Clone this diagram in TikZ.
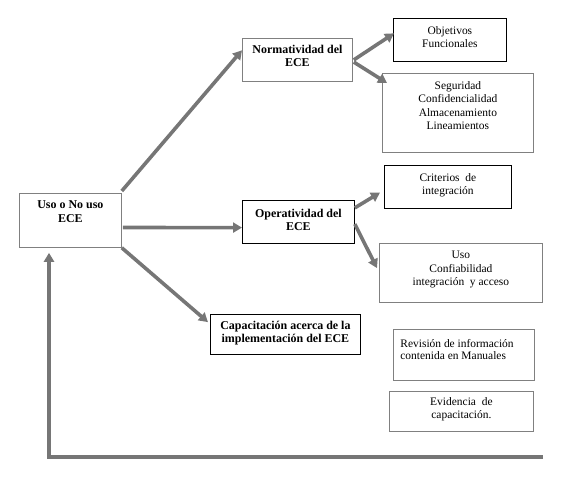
\documentclass[tikz,border=0pt]{standalone}
\usepackage{fontspec}
\setmainfont{Liberation Serif}
\usetikzlibrary{arrows.meta,calc}
\definecolor{arr}{HTML}{767676}
\definecolor{bgray}{HTML}{808080}
\tikzset{
  box/.style={draw, line width=0.8bp, inner sep=0pt, anchor=north west, font=\fontsize{11.5}{13.5}\selectfont},
  boldbox/.style={font=\fontsize{12}{13}\selectfont\bfseries},
  gbox/.style={box, draw=bgray},
  kbox/.style={box, draw=black},
  conn/.style={draw=arr, line width=3.6bp, -{Triangle[length=9bp,width=10bp]}},
}
\begin{document}
\begin{tikzpicture}[x=1bp,y=-1bp]
\useasboundingbox (0,0) rectangle (564,478);
% boxes
\node[gbox,boldbox] (uso) at (19,193) {\parbox[t][54bp][t]{102bp}{\centering\vspace*{7bp}Uso o No uso\\[1bp]ECE}};
\node[gbox,boldbox] (norm) at (242,38) {\parbox[t][43bp][t]{110bp}{\centering\vspace*{7bp}Normatividad del\\ECE}};
\node[kbox] (obj) at (393,18) {\parbox[t][43bp][t]{113bp}{\centering\vspace*{8bp}Objetivos\\Funcionales}};
\node[gbox] (seg) at (382,73) {\parbox[t][79bp][t]{151bp}{\centering\vspace*{8bp}Seguridad\\Confidencialidad\\Almacenamiento\\Lineamientos}};
\node[kbox,boldbox] (oper) at (242,200) {\parbox[t][43bp][t]{112bp}{\centering\vspace*{8.5bp}Operatividad del\\ECE}};
\node[kbox] (crit) at (384,165) {\parbox[t][43bp][t]{127bp}{\centering\vspace*{8bp}Criterios\ \ de\\integración}};
\node[gbox] (usoc) at (379,243) {\parbox[t][59bp][t]{163bp}{\centering\vspace*{8bp}Uso\\Confiabilidad\\integración\ \ y acceso}};
\node[kbox,boldbox] (cap) at (210,314) {\parbox[t][40bp][t]{150bp}{\centering\vspace*{7bp}Capacitación acerca de la\\implementación del ECE}};
\node[gbox] (rev) at (393,329) {\parbox[t][51bp][t]{141bp}{\raggedright\leftskip=7bp\baselineskip=12.5bp\vspace*{10bp}Revisión de información\\contenida en Manuales}};
\node[gbox] (evi) at (389,391) {\parbox[t][40bp][t]{144bp}{\centering\vspace*{6bp}Evidencia\ \ de\\capacitación.}};
% connectors
\draw[conn] ($(uso.north east)+(0,-2)$) -- ($(norm.north west)!0.28!(norm.south west)$);
\draw[conn] ($(uso.north east)!0.63!(uso.south east)+(1,0)$) -- ($(oper.north west)!0.63!(oper.south west)$);
\draw[conn] (uso.south east) -- ($(cap.north west)!0.2!(cap.south west)+(-2,0)$);
\draw[conn] ($(norm.north east)!0.5!(norm.south east)+(1,0)$) -- ($(obj.north west)!0.35!(obj.south west)+(1,0)$);
\draw[conn] ($(norm.north east)!0.55!(norm.south east)+(1,0)$) -- ($(seg.north west)+(5,10)$);
\draw[conn] ($(oper.north east)!0.18!(oper.south east)$) -- ($(crit.north west)!0.63!(crit.south west)+(-4,0)$);
\draw[conn] ($(oper.north east)!0.55!(oper.south east)$) -- ($(usoc.north west)!0.42!(usoc.south west)+(-2,0)$);
\coordinate (rend) at (543,457);
\draw[conn] (rend) -| ($(uso.south west)+(30,5)$);
\end{tikzpicture}
\end{document}
